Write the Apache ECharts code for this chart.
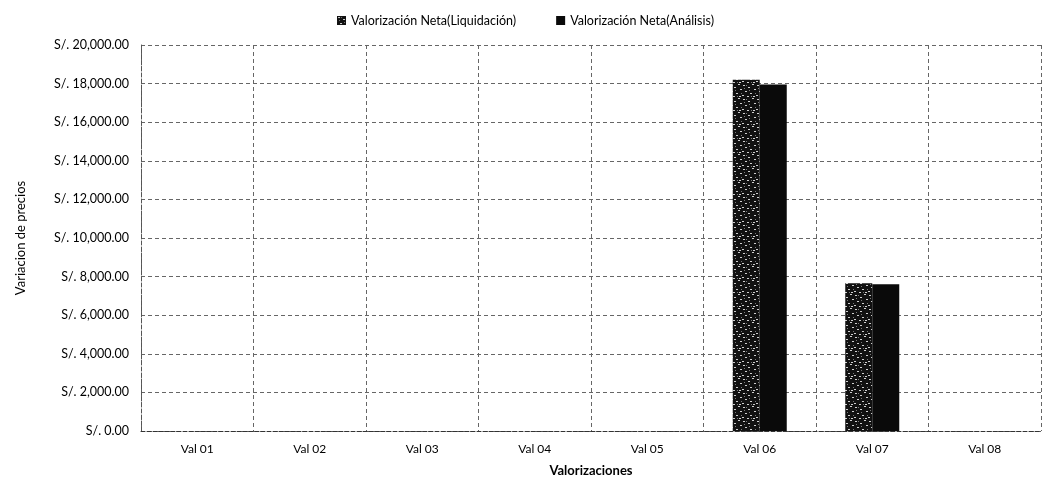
<!DOCTYPE html>
<html><head><meta charset="utf-8">
<script src="https://cdn.jsdelivr.net/npm/echarts@6/dist/echarts.min.js"></script>
<style>html,body{margin:0;padding:0;background:#fff}#c{width:1051px;height:500px}</style>
</head><body><div id="c"></div>
<script>
const categories = ['Val 01','Val 02','Val 03','Val 04','Val 05','Val 06','Val 07','Val 08'];
const liquidacion = [0,0,0,0,0,18200,7650,0];
const analisis = [0,0,0,0,0,17950,7600,0];
const seriesNames = ['Valorización Neta(Liquidación)','Valorización Neta(Análisis)'];
const yTicks = {min:0, max:20000, interval:2000};

function speckle(){
  const c = document.createElement('canvas'); c.width = 14; c.height = 14;
  const g = c.getContext('2d');
  g.fillStyle = '#111'; g.fillRect(0,0,14,14);
  g.fillStyle = '#cfcfcf';
  const pts = [[1,1],[6,3],[10,0],[3,7],[8,9],[12,5],[0,11],[5,12],[11,12]];
  pts.forEach(p=>g.fillRect(p[0],p[1],2,1));
  g.fillStyle = '#777';
  [[4,1],[13,9],[2,4],[7,6],[9,12]].forEach(p=>g.fillRect(p[0],p[1],1,1));
  return c;
}
const pat = {image: speckle(), repeat: 'repeat'};
const font = 'Lato, "Open Sans", sans-serif';
const chart = echarts.init(document.getElementById('c'), null, {renderer:'canvas'});
chart.setOption({
  animation:false,
  textStyle:{fontFamily:font},
  legend:{top:9, left:'center', itemWidth:9, itemHeight:9, itemGap:40,
    textStyle:{fontSize:12.5, color:'#000', fontFamily:font},
    data:[{name:seriesNames[0], icon:'rect'},{name:seriesNames[1], icon:'rect'}]},
  grid:{left:141, right:10, top:45, bottom:69},
  xAxis:{type:'category', data:categories,
    name:'Valorizaciones', nameLocation:'middle', nameGap:33,
    nameTextStyle:{fontWeight:'bold', fontSize:13, color:'#000'},
    axisLine:{lineStyle:{color:'#333', type:'dashed'}},
    axisTick:{show:false},
    axisLabel:{fontSize:12, color:'#000', margin:12},
    splitLine:{show:true, lineStyle:{color:'#666', type:[4,3], width:1}}},
  yAxis:{type:'value', min:yTicks.min, max:yTicks.max, interval:yTicks.interval,
    name:'Variacion de precios', nameLocation:'middle', nameGap:114,
    nameTextStyle:{fontSize:13, color:'#000'},
    axisLine:{show:true, lineStyle:{color:'#555', type:'dashed'}},
    axisTick:{show:false},
    axisLabel:{fontSize:12.5, color:'#000', margin:12,
      formatter:v=>'S/. '+v.toLocaleString('en-US',{minimumFractionDigits:2, maximumFractionDigits:2})},
    splitLine:{show:true, lineStyle:{color:'#666', type:[4,3], width:1}}},
  series:[
    {name:seriesNames[0], type:'bar', data:liquidacion, barWidth:27, barGap:'0%',
      itemStyle:{color:pat}},
    {name:seriesNames[1], type:'bar', data:analisis, barWidth:27,
      itemStyle:{color:'#0a0a0a'}}
  ]
});
</script></body></html>
